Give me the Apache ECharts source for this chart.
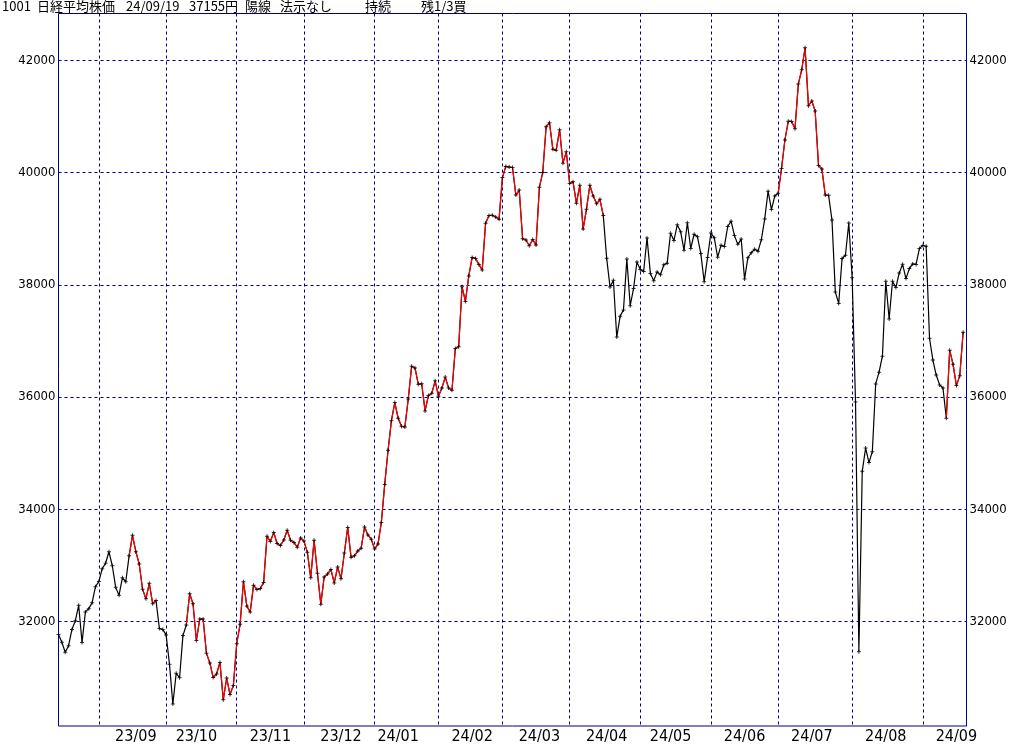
<!DOCTYPE html>
<html>
<head>
<meta charset="utf-8">
<script src="https://cdn.jsdelivr.net/npm/echarts@6/dist/echarts.min.js"></script>
<style>
html,body{margin:0;padding:0;background:#fff;}
#chart{width:1024px;height:745px;}
</style>
</head>
<body>
<div id="chart"></div>
<script>
// Trading days (YY/MM/DD)
const dates = [
'23/08/16','23/08/17','23/08/18','23/08/21','23/08/22','23/08/23','23/08/24','23/08/25','23/08/28','23/08/29','23/08/30','23/08/31',
'23/09/01','23/09/04','23/09/05','23/09/06','23/09/07','23/09/08','23/09/11','23/09/12','23/09/13','23/09/14','23/09/15','23/09/19','23/09/20','23/09/21','23/09/22','23/09/25','23/09/26','23/09/27','23/09/28','23/09/29',
'23/10/02','23/10/03','23/10/04','23/10/05','23/10/06','23/10/10','23/10/11','23/10/12','23/10/13','23/10/16','23/10/17','23/10/18','23/10/19','23/10/20','23/10/23','23/10/24','23/10/25','23/10/26','23/10/27','23/10/30','23/10/31',
'23/11/01','23/11/02','23/11/06','23/11/07','23/11/08','23/11/09','23/11/10','23/11/13','23/11/14','23/11/15','23/11/16','23/11/17','23/11/20','23/11/21','23/11/22','23/11/24','23/11/27','23/11/28','23/11/29','23/11/30',
'23/12/01','23/12/04','23/12/05','23/12/06','23/12/07','23/12/08','23/12/11','23/12/12','23/12/13','23/12/14','23/12/15','23/12/18','23/12/19','23/12/20','23/12/21','23/12/22','23/12/25','23/12/26','23/12/27','23/12/28','23/12/29',
'24/01/04','24/01/05','24/01/09','24/01/10','24/01/11','24/01/12','24/01/15','24/01/16','24/01/17','24/01/18','24/01/19','24/01/22','24/01/23','24/01/24','24/01/25','24/01/26','24/01/29','24/01/30','24/01/31',
'24/02/01','24/02/02','24/02/05','24/02/06','24/02/07','24/02/08','24/02/09','24/02/13','24/02/14','24/02/15','24/02/16','24/02/19','24/02/20','24/02/21','24/02/22','24/02/26','24/02/27','24/02/28','24/02/29',
'24/03/01','24/03/04','24/03/05','24/03/06','24/03/07','24/03/08','24/03/11','24/03/12','24/03/13','24/03/14','24/03/15','24/03/18','24/03/19','24/03/21','24/03/22','24/03/25','24/03/26','24/03/27','24/03/28','24/03/29',
'24/04/01','24/04/02','24/04/03','24/04/04','24/04/05','24/04/08','24/04/09','24/04/10','24/04/11','24/04/12','24/04/15','24/04/16','24/04/17','24/04/18','24/04/19','24/04/22','24/04/23','24/04/24','24/04/25','24/04/26','24/04/30',
'24/05/01','24/05/02','24/05/07','24/05/08','24/05/09','24/05/10','24/05/13','24/05/14','24/05/15','24/05/16','24/05/17','24/05/20','24/05/21','24/05/22','24/05/23','24/05/24','24/05/27','24/05/28','24/05/29','24/05/30','24/05/31',
'24/06/03','24/06/04','24/06/05','24/06/06','24/06/07','24/06/10','24/06/11','24/06/12','24/06/13','24/06/14','24/06/17','24/06/18','24/06/19','24/06/20','24/06/21','24/06/24','24/06/25','24/06/26','24/06/27','24/06/28',
'24/07/01','24/07/02','24/07/03','24/07/04','24/07/05','24/07/08','24/07/09','24/07/10','24/07/11','24/07/12','24/07/16','24/07/17','24/07/18','24/07/19','24/07/22','24/07/23','24/07/24','24/07/25','24/07/26','24/07/29','24/07/30','24/07/31',
'24/08/01','24/08/02','24/08/05','24/08/06','24/08/07','24/08/08','24/08/09','24/08/13','24/08/14','24/08/15','24/08/16','24/08/19','24/08/20','24/08/21','24/08/22','24/08/23','24/08/26','24/08/27','24/08/28','24/08/29','24/08/30',
'24/09/02','24/09/03','24/09/04','24/09/05','24/09/06','24/09/09','24/09/10','24/09/11','24/09/12','24/09/13','24/09/17','24/09/18','24/09/19'
];

// Closing prices (yen)
const closes = [
31766,31626,31450,31566,31856,32010,32287,31624,32169,32227,32333,32619,
32710,32939,33036,33241,32991,32606,32467,32776,32706,33168,33533,33242,33023,32571,32402,32678,32315,32371,31872,31857,
31759,31237,30526,31075,30994,31746,31936,32494,32315,31659,32041,32042,31430,31259,30999,31062,31269,30601,30991,30696,30859,
31601,31950,32708,32272,32166,32646,32568,32585,32695,33519,33424,33585,33388,33354,33451,33625,33447,33408,33321,33486,
33431,33231,32776,33446,32858,32307,32791,32843,32926,32686,32970,32758,33219,33675,33141,33169,33255,33305,33681,33540,33464,
33288,33377,33763,34441,35049,35577,35901,35619,35477,35466,35963,36546,36517,36226,36236,35751,36026,36065,36287,
36011,36158,36354,36160,36119,36863,36897,37963,37703,38157,38487,38470,38363,38262,39098,39233,39239,39208,39166,
39910,40109,40097,40090,39598,39688,38820,38797,38695,38807,38707,39740,40003,40815,40888,40414,40398,40762,40168,40369,
39803,39838,39451,39773,38992,39347,39773,39581,39442,39523,39233,38471,37961,38079,37068,37438,37552,38460,37628,37934,38405,
38274,38236,38835,38202,38073,38229,38179,38356,38385,38920,38787,39069,38946,38617,39103,38646,38900,38855,38556,38054,38487,
38923,38837,38490,38703,38683,39038,39134,38876,38720,38814,38102,38482,38570,38633,38596,38804,39173,39667,39341,39583,
39631,40074,40580,40913,40912,40780,41580,41831,42224,41190,41275,41097,40126,40063,39599,39594,39154,37869,37667,38468,38526,39101,
38126,35909,31458,34675,35089,34831,35025,36232,36442,36726,38062,37389,38062,37951,38211,38364,38110,38288,38371,38362,38648,
38700,38686,37047,36657,36391,36215,36159,35620,36833,36581,36203,36380,37155
];

// Holding (buy) periods, drawn in red
const holdStarts = ['23/09/14','23/10/11','24/07/01','24/09/11'];
const holdEnds   = ['23/09/27','24/04/15','24/07/23','24/09/19'];

// Y-axis tick labels
const yTicks = [32000, 34000, 36000, 38000, 40000, 42000];

// Header texts
const headerTexts = ['1001','日経平均株価','24/09/19','37155円','陽線','法示なし','持続','残1/3買'];
const headerX = [2, 37, 126, 189, 245, 280, 365, 421];

// ---- derived ----
const holdIdx = holdStarts.map((s, k) => [dates.indexOf(s), dates.indexOf(holdEnds[k])]);
const redData = closes.map((v, i) => holdIdx.some(r => i >= r[0] && i <= r[1]) ? v : null);

const monthStart = new Set();
const labelIdx = new Set();
const seenMonth = {};
dates.forEach((d, i) => {
  const ym = d.slice(0, 5);
  const day = +d.slice(6);
  if (i > 0 && dates[i - 1].slice(0, 5) !== ym) monthStart.add(i);
  if (day >= 16 && !seenMonth[ym] && dates[0].slice(0, 5) !== ym) { seenMonth[ym] = true; labelIdx.add(i); }
});

const NAVY = '#000080';
const chart = echarts.init(document.getElementById('chart'), null, {renderer: 'canvas'});
const yLabelFont = {fontFamily: '"Liberation Sans Narrow","DejaVu Sans Condensed",sans-serif', fontSize: 13, color: '#000'};

chart.setOption({
  animation: false,
  backgroundColor: '#fff',
  graphic: headerTexts.map((t, k) => ({
    type: 'text', left: headerX[k], top: 0,
    style: {text: t, fill: '#000', font: '13px "Noto Sans CJK JP", sans-serif'}
  })),
  grid: {left: 58.5, right: 57.5, top: 13.5, bottom: 16.5, show: true, borderColor: NAVY, borderWidth: 1, containLabel: false},
  xAxis: {
    type: 'category', data: dates, boundaryGap: false, max: dates.length,
    axisLine: {show: false}, axisTick: {show: false},
    axisLabel: {
      interval: (i) => labelIdx.has(i), margin: 3,
      formatter: (v) => v ? v.slice(0, 5) : '',
      fontFamily: '"Liberation Sans Narrow","DejaVu Sans Condensed",sans-serif', fontSize: 16, color: '#000'
    },
    splitLine: {show: true, interval: (i) => monthStart.has(i), lineStyle: {color: NAVY, width: 1, type: [3, 3]}}
  },
  yAxis: [{
    type: 'value', min: 30135, max: 42835, position: 'left',
    axisLine: {show: false}, axisTick: {show: false, customValues: yTicks},
    axisLabel: Object.assign({customValues: yTicks, margin: 3, formatter: (v) => String(v)}, yLabelFont),
    splitLine: {show: true, lineStyle: {color: NAVY, width: 1, type: [3, 3]}}
  }, {
    type: 'value', min: 30135, max: 42835, position: 'right',
    axisLine: {show: false}, axisTick: {show: false, customValues: yTicks},
    axisLabel: Object.assign({customValues: yTicks, margin: 3, formatter: (v) => String(v)}, yLabelFont),
    splitLine: {show: false}
  }],
  series: [{
    type: 'line', data: closes, showSymbol: false, symbol: 'none',
    lineStyle: {color: '#000', width: 1.2}, z: 2, silent: true
  }, {
    type: 'line', data: redData, showSymbol: false, symbol: 'none', connectNulls: false,
    lineStyle: {color: '#ff0000', width: 1.2}, z: 3, silent: true
  }, {
    type: 'scatter', data: closes, symbol: 'path://M1.5,0H2.5V4H1.5Z M0,1.5H4V2.5H0Z', symbolSize: 4,
    itemStyle: {color: '#000'}, z: 4, silent: true
  }]
});
</script>
</body>
</html>
